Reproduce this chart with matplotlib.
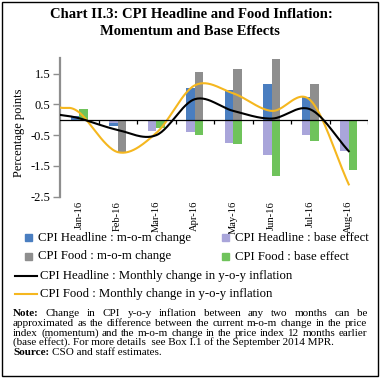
import numpy as np
import matplotlib
matplotlib.use("Agg")
import matplotlib.pyplot as plt
from matplotlib.patches import Rectangle
from matplotlib.lines import Line2D

plt.rcParams["font.family"] = ["Liberation Serif", "DejaVu Serif"]

months = ["Jan-16", "Feb-16", "Mar-16", "Apr-16", "May-16", "Jun-16", "Jul-16", "Aug-16"]
head_mom = [0.12, -0.20, 0.00, 1.02, 0.97, 1.16, 0.75, 0.00]
head_base = [-0.05, -0.10, -0.35, -0.41, -0.75, -1.14, -0.48, -1.00]
food_mom = [-0.05, -1.05, -0.15, 1.55, 1.65, 1.99, 1.16, -0.35]
food_base = [0.35, 0.00, -0.28, -0.48, -0.80, -1.83, -0.70, -1.63]

# lines start at the left edge of the plot, then one point per month
line_x = [-0.5, 0, 1, 2, 3, 4, 5, 6, 7]
head_yoy = [0.16, 0.05, -0.33, -0.50, 0.67, 0.29, 0.04, 0.34, -1.02]
food_yoy = [0.40, 0.24, -1.05, -0.43, 1.12, 0.86, 0.29, 0.64, -2.10]

C_BLUE = "#4a7ec0"
C_LAV = "#a9a5da"
C_GREY = "#8e8e8e"
C_GREEN = "#6fc35b"
C_YEL = "#f5b71f"

W, H = 380, 378


def fx(px):
    return px / W


def fy(py):
    return 1 - py / H


def smooth(xs, ys, n=30):
    # catmull-rom curve through the points (Excel "smoothed line")
    p = np.column_stack([xs, ys]).astype(float)
    p = np.vstack([p[0] - (p[1] - p[0]), p, p[-1] + (p[-1] - p[-2])])
    out = []
    t = np.linspace(0, 1, n)[:, None]
    for i in range(1, len(p) - 2):
        p0, p1, p2, p3 = p[i - 1], p[i], p[i + 1], p[i + 2]
        seg = 0.5 * ((2 * p1) + (-p0 + p2) * t + (2 * p0 - 5 * p1 + 4 * p2 - p3) * t ** 2
                     + (-p0 + 3 * p1 - 3 * p2 + p3) * t ** 3)
        out.append(seg)
    out = np.vstack(out)
    return out[:, 0], out[:, 1]


fig = plt.figure(figsize=(W / 100, H / 100), dpi=100)
ax = fig.add_axes([fx(60), fy(196.7), fx(368) - fx(60), fy(58.3) - fy(196.7)])

x = np.arange(len(months))
bw = 0.22
ax.bar(x - bw / 2, head_mom, bw, color=C_BLUE, zorder=2)
ax.bar(x - bw / 2, head_base, bw, color=C_LAV, zorder=2)
ax.bar(x + bw / 2, food_mom, bw, color=C_GREY, zorder=2)
ax.bar(x + bw / 2, food_base, bw, color=C_GREEN, zorder=2)

sx, sy = smooth(line_x, head_yoy)
ax.plot(sx, sy, color="black", lw=1.5, zorder=4)
sx, sy = smooth(line_x, food_yoy)
ax.plot(sx, sy, color=C_YEL, lw=1.5, zorder=3)

ax.axhline(0, color="black", lw=0.9, zorder=3)
ax.vlines(x + 0.5, -0.13, 0, color="black", lw=0.9, zorder=3)

ax.set_xlim(-0.5, 7.5)
ax.set_ylim(-2.5, 2.0)
ax.set_yticks([-2.5, -1.5, -0.5, 0.5, 1.5])
ax.set_yticklabels(["-2.5", "-1.5", "-0.5", "0.5", "1.5"])
ax.set_xticks(x)
ax.set_xticklabels(months, rotation=90, va="top", ha="center")
ax.tick_params(axis="x", length=0, pad=3, labelsize=7.6)
ax.tick_params(axis="y", length=5, width=1, color=C_GREY, pad=2, labelsize=9)
for s in ["top", "right", "bottom"]:
    ax.spines[s].set_visible(False)
ax.spines["left"].set_color(C_GREY)
ax.spines["left"].set_linewidth(1.6)
fig.text(fx(19), fy(133), "Percentage points", rotation=90, ha="center", va="center", fontsize=9)

# title
fig.text(fx(191), fy(15), "Chart II.3: CPI Headline and Food Inflation:", ha="center", va="center",
         fontsize=10.5, fontweight="bold")
fig.text(fx(190), fy(31.5), "Momentum and Base Effects", ha="center", va="center",
         fontsize=10.5, fontweight="bold")

# legend
patch_items = [(25, 238, C_BLUE, "CPI Headline : m-o-m change"),
               (222, 238, C_LAV, "CPI Headline : base effect"),
               (25, 256.5, C_GREY, "CPI Food : m-o-m change"),
               (222, 256.5, C_GREEN, "CPI Food : base effect")]
for px, py, c, lab in patch_items:
    fig.patches.append(Rectangle((fx(px), fy(py + 3.5)), fx(7), 7 / H, color=c,
                                 transform=fig.transFigure, figure=fig))
    fig.text(fx(px + 13), fy(py), lab, ha="left", va="center", fontsize=9.2)
for py, c, lab in [(276, "black", "CPI Headline : Monthly change in y-o-y inflation"),
                   (294, C_YEL, "CPI Food : Monthly change in y-o-y inflation")]:
    fig.lines.append(Line2D([fx(15), fx(37)], [fy(py), fy(py)], color=c, lw=1.5,
                            transform=fig.transFigure, figure=fig))
    fig.text(fx(40), fy(py), lab, ha="left", va="center", fontsize=9.2)

# note, justified
fig.canvas.draw()
rend = fig.canvas.get_renderer()
note_lines = [
    [("Note:", "bold"), "Change", "in", "CPI", "y-o-y", "inflation", "between", "any", "two", "months", "can", "be"],
    "approximated as the difference between the current m-o-m change in the price".split(),
    "index (momentum) and the m-o-m change in the price index 12 months earlier".split(),
]
NFS = 8.0
x0, x1 = 13, 367
ys = [313, 323, 333]
for words, py in zip(note_lines, ys):
    items = [w if isinstance(w, tuple) else (w, "normal") for w in words]
    widths = []
    for w, wt in items:
        t = fig.text(0, 0, w, fontsize=NFS, fontweight=wt)
        widths.append(t.get_window_extent(rend).width)
        t.remove()
    gap = (x1 - x0 - sum(widths)) / (len(items) - 1)
    cx = x0
    for (w, wt), wd in zip(items, widths):
        fig.text(fx(cx), fy(py), w, fontsize=NFS, fontweight=wt, ha="left", va="center")
        cx += wd + gap

fig.text(fx(x0), fy(342.5), "(base effect). For more details  see Box I.1 of the September 2014 MPR.",
         fontsize=NFS, ha="left", va="center")
t = fig.text(fx(x0), fy(352.5), "Source:", fontsize=NFS, fontweight="bold", ha="left", va="center")
wd = t.get_window_extent(rend).width
fig.text(fx(x0 + wd + 3), fy(352.5), "CSO and staff estimates.", fontsize=NFS, ha="left", va="center")

fig.patches.append(Rectangle((fx(1.5), fy(376)), fx(376), 374.5 / H, fill=False, ec="black", lw=1,
                             transform=fig.transFigure, figure=fig))

fig.savefig("out.png", dpi=100)
